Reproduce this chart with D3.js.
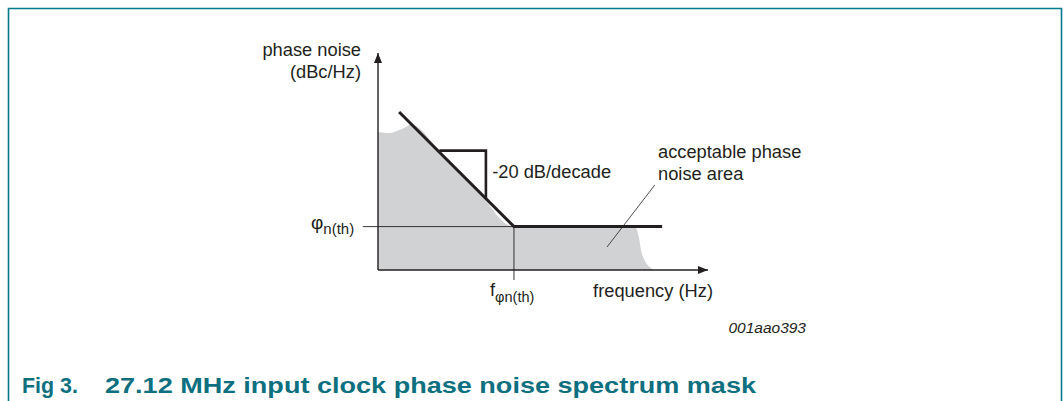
<!DOCTYPE html>
<html>
<head>
<meta charset="utf-8">
<script src="https://cdn.jsdelivr.net/npm/d3@7"></script>
<style>
  html, body { margin: 0; padding: 0; background: #fff; }
  svg text { font-family: "Liberation Sans", Arial, sans-serif; fill: #231f20; }
</style>
</head>
<body>
<svg id="chart" width="1064" height="401"></svg>
<script>
// schematic units: x = log frequency (0..100), y = phase noise (0..100)
const maskLine = [ { x: 6.4, y: 72.8 }, { x: 41.2, y: 20 }, { x: 86.1, y: 20 } ];
const slopeTriangle = [ { x: 18.6, y: 55 }, { x: 32.7, y: 55 }, { x: 32.7, y: 33.2 } ];
const acceptableArea = [
  { x: 0, y: 63.6 }, { x: 3.6, y: 63.1 }, { x: 6.1, y: 64.3 }, { x: 8.0, y: 65.6 },
  { x: 10.0, y: 67.1 }, { x: 20, y: 52.0 }, { x: 30, y: 36.8 }, { x: 41.2, y: 19.8 },
  { x: 60, y: 19.7 }, { x: 78.0, y: 19.6 }, { x: 79.0, y: 15.5 },
  { x: 79.7, y: 9.2 }, { x: 80.8, y: 4.4 }, { x: 82.2, y: 1.5 }, { x: 83.6, y: 0 }
];
const thresholdY = 20;
const thresholdX = 41.2;
const leader = [ { x: 83.9, y: 39.2 }, { x: 69.4, y: 10.6 } ];
const yTitle = ['phase noise', '(dBc/Hz)'];
const xTitle = 'frequency (Hz)';
const slopeLabel = '-20 dB/decade';
const areaLabel = ['acceptable phase', 'noise area'];
const figId = '001aao393';
const captionNum = 'Fig 3.';
const captionText = '27.12 MHz input clock phase noise spectrum mask';

const svg = d3.select('#chart');
const ink = '#231f20';
const teal = '#007a8b';

const x = d3.scaleLinear().domain([0, 100]).range([378, 708]);
const y = d3.scaleLinear().domain([0, 100]).range([270, 53]);

// frame
svg.append('path')
  .attr('d', 'M8.5,410 V8.5 H1061.5 V410')
  .attr('fill', 'none')
  .attr('stroke', teal)
  .attr('stroke-width', 1.6);

// acceptable area
svg.append('path')
  .datum(acceptableArea)
  .attr('d', d3.area().x(d => x(d.x)).y0(y(0)).y1(d => y(d.y)).curve(d3.curveMonotoneX))
  .attr('fill', '#d1d2d4');

// arrow marker
const defs = svg.append('defs');
defs.append('marker')
  .attr('id', 'arrow')
  .attr('viewBox', '0 0 10 8')
  .attr('refX', 10).attr('refY', 4)
  .attr('markerWidth', 10).attr('markerHeight', 8)
  .attr('markerUnits', 'userSpaceOnUse')
  .attr('orient', 'auto')
  .append('path').attr('d', 'M0,0 L10,4 L0,8 Z').attr('fill', ink);

// axes
svg.append('line')
  .attr('x1', x(0)).attr('y1', y(0)).attr('x2', x(0)).attr('y2', y(100))
  .attr('stroke', ink).attr('stroke-width', 1.4).attr('marker-end', 'url(#arrow)');
svg.append('line')
  .attr('x1', x(0)).attr('y1', y(0)).attr('x2', x(100)).attr('y2', y(0))
  .attr('stroke', ink).attr('stroke-width', 1.4).attr('marker-end', 'url(#arrow)');

// threshold guides
svg.append('line')
  .attr('x1', x(-4.6)).attr('y1', y(thresholdY)).attr('x2', x(thresholdX)).attr('y2', y(thresholdY))
  .attr('stroke', ink).attr('stroke-width', 0.9);
svg.append('line')
  .attr('x1', x(thresholdX)).attr('y1', y(thresholdY)).attr('x2', x(thresholdX)).attr('y2', y(-4.6))
  .attr('stroke', ink).attr('stroke-width', 0.9);

const line = d3.line().x(d => x(d.x)).y(d => y(d.y));

// slope triangle
svg.append('path').datum(slopeTriangle).attr('d', line)
  .attr('fill', 'none').attr('stroke', ink).attr('stroke-width', 2.6);

// mask line
svg.append('path').datum(maskLine).attr('d', line)
  .attr('fill', 'none').attr('stroke', ink).attr('stroke-width', 3);

// leader
svg.append('path').datum(leader).attr('d', line)
  .attr('fill', 'none').attr('stroke', ink).attr('stroke-width', 0.8);

// labels
const fs = 18.3;
svg.append('g').selectAll('text').data(yTitle).join('text')
  .attr('x', 361).attr('y', (d, i) => 56 + i * 22)
  .attr('text-anchor', 'end').attr('font-size', fs).text(d => d);

svg.append('text').attr('x', x(100) + 5).attr('y', 297)
  .attr('text-anchor', 'end').attr('font-size', fs).text(xTitle);

svg.append('text').attr('x', x(34.6)).attr('y', y(42.4))
  .attr('font-size', fs).text(slopeLabel);

svg.append('g').selectAll('text').data(areaLabel).join('text')
  .attr('x', 658).attr('y', (d, i) => 158 + i * 22)
  .attr('font-size', fs).text(d => d);

// phi n(th)
const phi = svg.append('text').attr('x', 311).attr('y', y(thresholdY) + 2).attr('font-size', 19);
phi.append('tspan').text('φ');
phi.append('tspan').attr('dy', 5).attr('font-size', 15).text('n(th)');

// f phi n(th)
const fl = svg.append('text').attr('x', 490).attr('y', 296).attr('font-size', fs);
fl.append('tspan').text('f');
fl.append('tspan').attr('dy', 6).attr('font-size', 14.5).text('φn(th)');

svg.append('text').attr('x', 806).attr('y', 333)
  .attr('text-anchor', 'end').attr('font-size', 15.5).attr('font-style', 'italic')
  .text(figId);

// caption
svg.append('text').attr('x', 22).attr('y', 393)
  .attr('font-size', 22).attr('font-weight', 'bold').style('fill', '#0d6f80')
  .attr('textLength', 56).attr('lengthAdjust', 'spacingAndGlyphs')
  .text(captionNum);
svg.append('text').attr('x', 105).attr('y', 393)
  .attr('font-size', 22).attr('font-weight', 'bold').style('fill', '#0d6f80')
  .attr('textLength', 651).attr('lengthAdjust', 'spacingAndGlyphs')
  .text(captionText);
</script>
</body>
</html>
